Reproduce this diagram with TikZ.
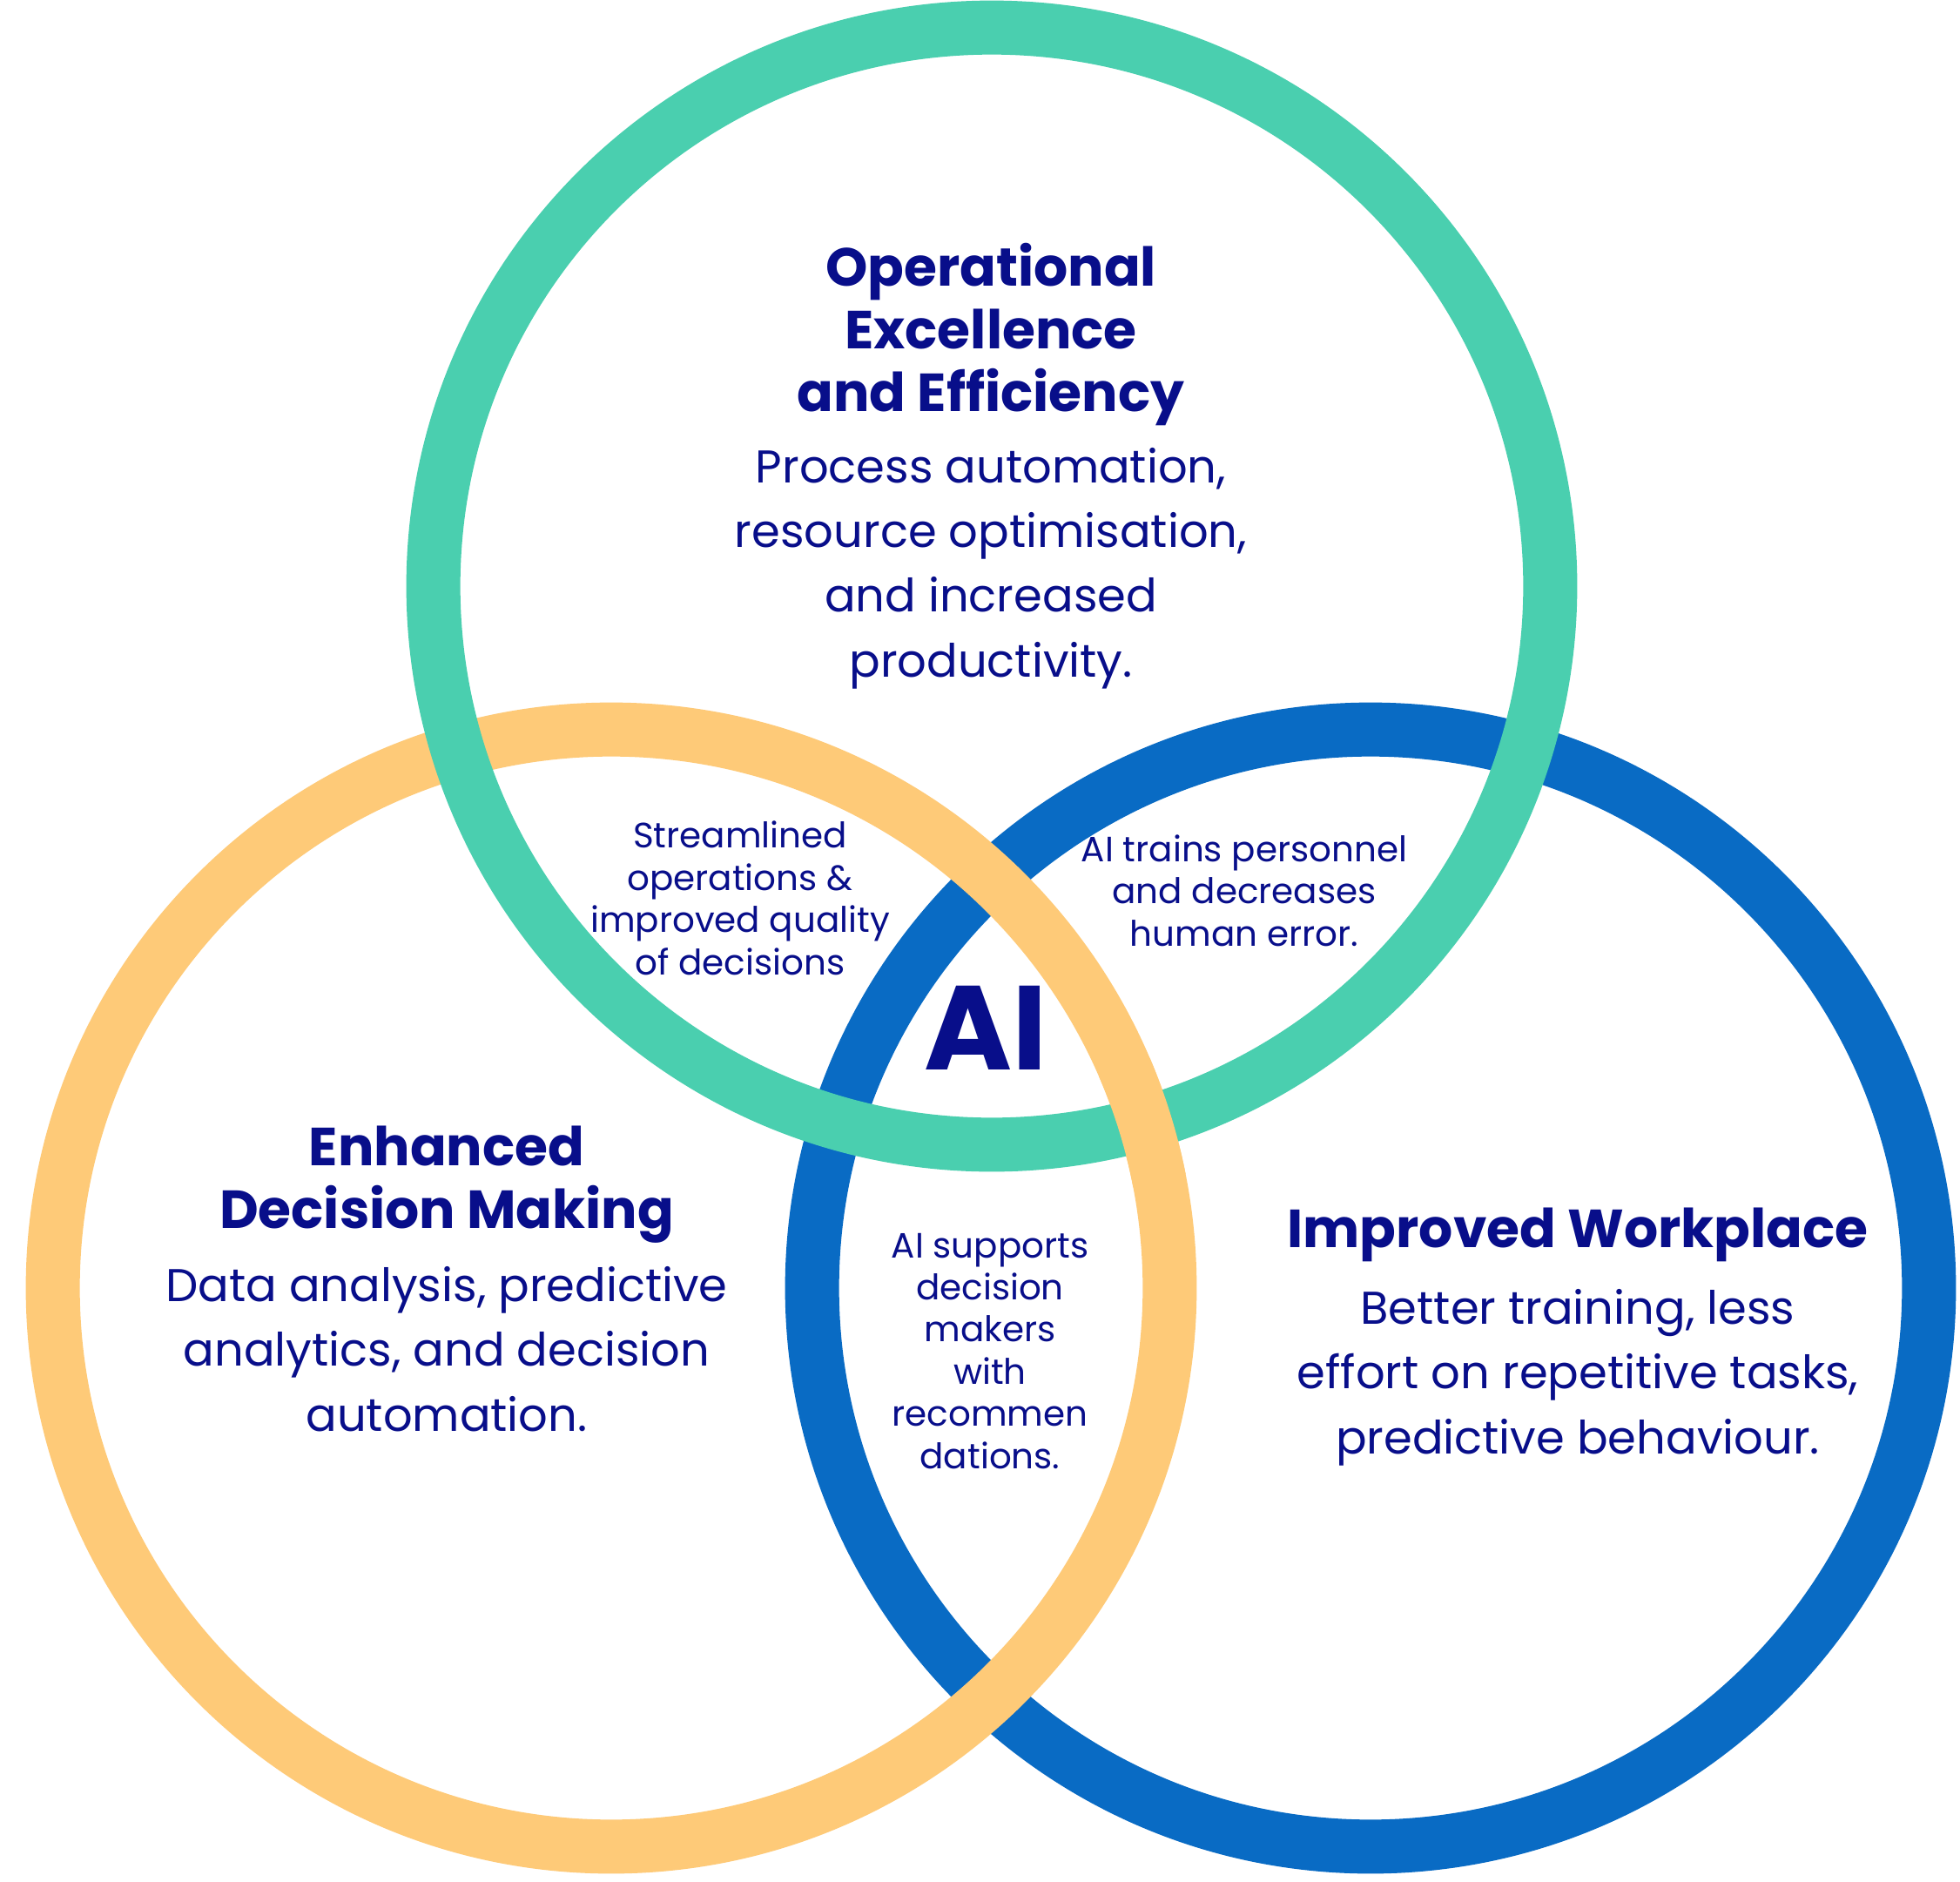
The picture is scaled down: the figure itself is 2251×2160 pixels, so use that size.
\documentclass[tikz,border=0pt]{standalone}
\usepackage{fontspec}
\setmainfont{Poppins}
\definecolor{ringgreen}{RGB}{74,207,175}
\definecolor{ringyellow}{RGB}{254,202,120}
\definecolor{ringblue}{RGB}{9,107,196}
\definecolor{navy}{RGB}{8,14,138}
\begin{document}
\begin{tikzpicture}[x=0.01cm,y=-0.01cm,
  ring/.style={line width=0.62cm},
  headtxt/.style={font=\fontsize{17.5}{20.4}\selectfont\bfseries, text=navy, align=center, anchor=base, inner sep=0pt},
  bodytxt/.style={font=\fontsize{15}{21.1}\selectfont, text=navy, align=center, anchor=base, inner sep=0pt},
  smalltxt/.style={font=\fontsize{11.5}{13.75}\selectfont, text=navy, align=center, anchor=base, inner sep=0pt},
  aitxt/.style={font=\fontsize{39}{40}\selectfont\bfseries, text=navy, anchor=base, inner sep=0pt}]
\fill[white] (0,0) rectangle (2251,2160);
\useasboundingbox (0,0) rectangle (2251,2160);
\coordinate (G) at (1139,673);
\coordinate (Y) at (702,1479);
\coordinate (B) at (1574,1479);
\coordinate (XGY) at (1314.4,1289.5);
% rings
\draw[ring, ringblue] (B) circle [radius=6.41cm];
\draw[ring, ringyellow] (Y) circle [radius=6.41cm];
\draw[ring, ringgreen] (G) circle [radius=6.41cm];
\begin{scope}
  \clip (XGY) circle [radius=0.75cm];
  \draw[ring, ringyellow] (Y) circle [radius=6.41cm];
\end{scope}
% texts (anchor = baseline of the last line)
\node[headtxt] (gh) at (1138,472) {Operational\\Excellence\\and Efficiency};
\node[bodytxt] (gb) at (1138,777) {Process automation,\\resource optimisation,\\and increased\\productivity.};
\node[headtxt] (yh) at (513,1410) {Enhanced\\Decision Making};
\node[bodytxt] (yb) at (513,1643) {Data analysis, predictive\\analytics, and decision\\automation.};
\node[headtxt] (bh) at (1812,1432) {Improved Workplace};
\node[bodytxt] (bb) at (1812,1669) {Better training, less\\effort on repetitive tasks,\\predictive behaviour.};
\node[smalltxt] (sgy) at (850,1119) {Streamlined\\operations \&\\improved quality\\of decisions};
\node[smalltxt] (sgb) at (1429,1086) {AI trains personnel\\and decreases\\human error.};
\node[smalltxt] (syb) at (1137,1686) {AI supports\\decision\\makers\\with\\recommen\\dations.};
\node[aitxt] (ai) at (1132,1228) {AI};
\end{tikzpicture}
\end{document}
